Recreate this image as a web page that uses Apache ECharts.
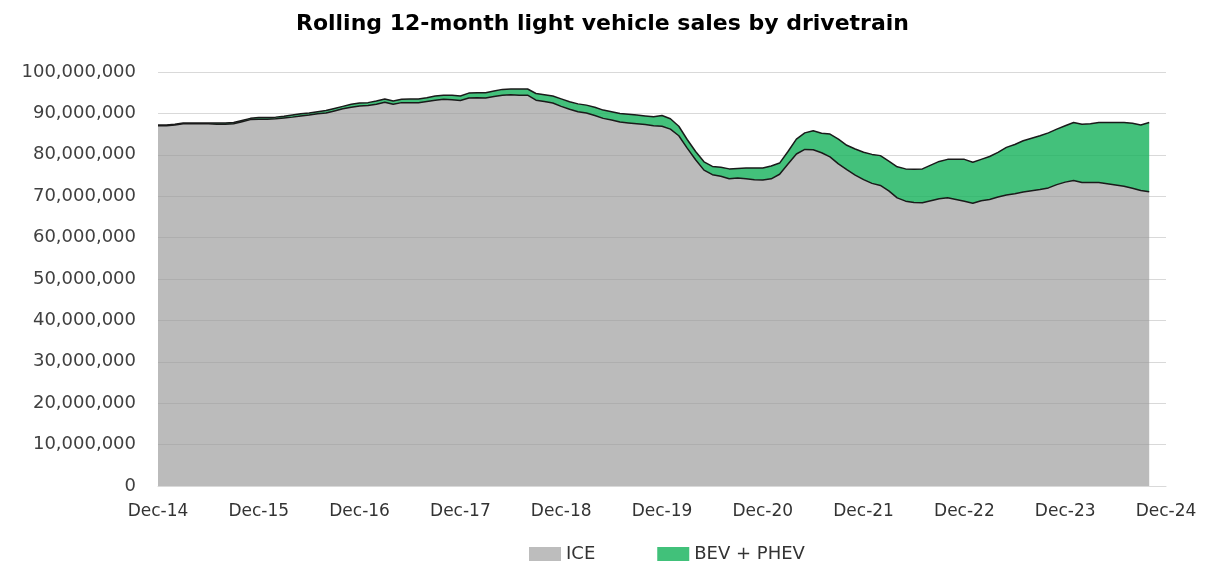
<!DOCTYPE html>
<html>
<head>
<meta charset="utf-8">
<script src="https://cdn.jsdelivr.net/npm/echarts@6/dist/echarts.min.js"></script>
<style>
  html, body { margin: 0; padding: 0; background: #fff; }
  #chartBox { width: 1205px; height: 565px; }
</style>
</head>
<body>
<div id="chartBox"></div>
<script>
// monthly categories Dec-14 .. Dec-24
const monthNames = ['Jan', 'Feb', 'Mar', 'Apr', 'May', 'Jun', 'Jul', 'Aug', 'Sep', 'Oct', 'Nov', 'Dec'];
const categories = ['Dec-14'];
for (let y = 15; y <= 24; y++) {
  monthNames.forEach(m => categories.push(m + '-' + y));
}

// rolling 12-month sales, millions of vehicles
const iceSales = [
  87.0, 87.0, 87.2, 87.5, 87.5, 87.5, 87.5, 87.4, 87.4, 87.5, 88.0, 88.5,
  88.6, 88.6, 88.7, 88.9, 89.1, 89.4, 89.6, 89.9, 90.1, 90.6, 91.1, 91.5,
  91.8, 91.9, 92.2, 92.7, 92.2, 92.6, 92.6, 92.6, 92.9, 93.2, 93.4, 93.3,
  93.1, 93.7, 93.8, 93.7, 94.1, 94.4, 94.5, 94.4, 94.4, 93.2, 92.9, 92.5,
  91.7, 91.0, 90.4, 90.1, 89.5, 88.8, 88.4, 87.9, 87.7, 87.5, 87.3, 87.0,
  86.9, 86.2, 84.6, 81.6, 78.8, 76.3, 75.2, 74.8, 74.2, 74.4, 74.2, 74.0,
  73.9, 74.2, 75.3, 77.8, 80.2, 81.3, 81.2, 80.5, 79.5, 77.8, 76.4, 75.1,
  74.0, 73.1, 72.6, 71.3, 69.6, 68.8, 68.5, 68.4, 68.9, 69.4, 69.6, 69.2,
  68.8, 68.3, 68.9, 69.2, 69.8, 70.3, 70.6, 71.0, 71.3, 71.6, 72.0, 72.8,
  73.4, 73.8, 73.3, 73.3, 73.3, 73.0, 72.7, 72.4, 71.9, 71.4, 71.1
];
const evSales = [
  0.2, 0.2, 0.2, 0.2, 0.2, 0.2, 0.2, 0.3, 0.3, 0.3, 0.3, 0.3,
  0.4, 0.4, 0.4, 0.4, 0.5, 0.5, 0.5, 0.5, 0.6, 0.6, 0.6, 0.7,
  0.7, 0.7, 0.8, 0.8, 0.8, 0.8, 0.9, 0.9, 0.9, 1.0, 1.0, 1.1,
  1.1, 1.2, 1.2, 1.3, 1.3, 1.4, 1.4, 1.5, 1.5, 1.6, 1.6, 1.7,
  1.8, 1.8, 1.9, 1.9, 2.0, 2.0, 2.0, 2.1, 2.1, 2.1, 2.1, 2.2,
  2.6, 2.5, 2.3, 2.1, 2.0, 2.0, 2.0, 2.2, 2.4, 2.3, 2.6, 2.8,
  2.9, 3.1, 2.7, 3.0, 3.6, 4.0, 4.6, 4.7, 5.5, 6.0, 5.9, 6.3,
  6.6, 7.0, 7.2, 7.2, 7.5, 7.8, 8.0, 8.2, 8.6, 9.0, 9.3, 9.7,
  10.1, 9.9, 10.0, 10.4, 10.8, 11.5, 11.9, 12.4, 12.7, 13.0, 13.3, 13.4,
  13.6, 14.0, 14.1, 14.2, 14.5, 14.8, 15.1, 15.4, 15.7, 15.8, 16.7
];

const yTicks = [0, 10, 20, 30, 40, 50, 60, 70, 80, 90, 100];
const yTickLabels = ['0', '10,000,000', '20,000,000', '30,000,000', '40,000,000', '50,000,000',
  '60,000,000', '70,000,000', '80,000,000', '90,000,000', '100,000,000'];

const fontFamily = 'DejaVu Sans';
const chart = echarts.init(document.getElementById('chartBox'));
chart.setOption({
  animation: false,
  title: {
    text: 'Rolling 12-month light vehicle sales by drivetrain',
    left: 'center',
    top: 8,
    textStyle: { fontFamily: fontFamily, fontSize: 22, fontWeight: 'bold', color: '#000' }
  },
  legend: {
    top: 540,
    left: 524,
    icon: 'rect',
    itemWidth: 32,
    itemHeight: 14,
    itemGap: 62,
    textStyle: { fontFamily: fontFamily, fontSize: 18, color: '#333' },
    data: [
      { name: 'ICE', itemStyle: { color: '#bdbdbd', borderWidth: 0 } },
      { name: 'BEV + PHEV', itemStyle: { color: '#41c17a', borderWidth: 0 } }
    ]
  },
  grid: { left: 158, right: 39, top: 72, bottom: 79 },
  xAxis: {
    type: 'category',
    boundaryGap: false,
    data: categories,
    axisLine: { show: true, lineStyle: { color: '#d9d9d9' } },
    axisTick: { show: false },
    axisLabel: {
      interval: (idx) => idx % 12 === 0,
      margin: 17,
      fontFamily: fontFamily,
      fontSize: 17,
      color: '#333'
    },
    splitLine: { show: false }
  },
  yAxis: {
    type: 'value',
    min: 0,
    max: 100,
    interval: 10,
    axisLine: { show: false },
    axisTick: { show: false },
    axisLabel: {
      margin: 22,
      fontFamily: fontFamily,
      fontSize: 18,
      color: '#404040',
      formatter: (v) => yTickLabels[yTicks.indexOf(v)]
    },
    splitLine: { lineStyle: { color: '#d9d9d9', width: 1 } }
  },
  series: [
    {
      name: 'ICE',
      type: 'line',
      stack: 'sales',
      showSymbol: false,
      data: iceSales,
      itemStyle: { color: '#bdbdbd' },
      lineStyle: { color: '#1a1a1a', width: 1.5 },
      areaStyle: { color: 'rgba(150,150,150,0.65)', opacity: 1 }
    },
    {
      name: 'BEV + PHEV',
      type: 'line',
      stack: 'sales',
      showSymbol: false,
      data: evSales,
      itemStyle: { color: '#41c17a' },
      lineStyle: { color: '#1a1a1a', width: 1.5 },
      areaStyle: { color: 'rgba(20,178,90,0.8)', opacity: 1 }
    }
  ]
});
</script>
</body>
</html>
